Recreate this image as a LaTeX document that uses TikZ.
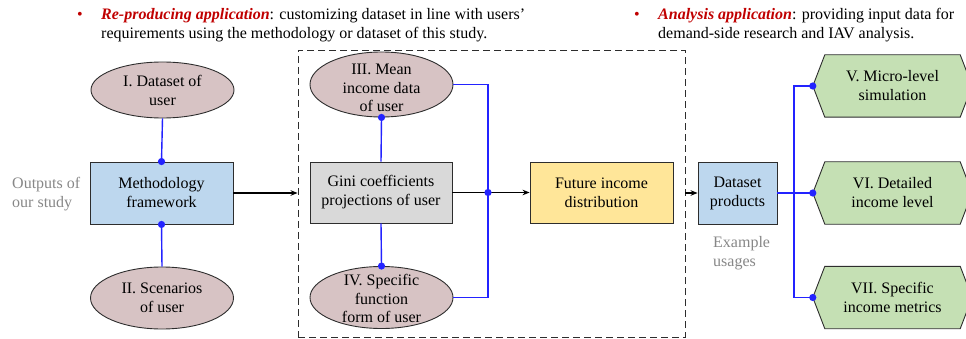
\documentclass[tikz,border=0pt]{standalone}
\usepackage{fontspec}
\setmainfont{Liberation Serif}
\usetikzlibrary{arrows.meta,shapes.geometric,backgrounds}
\definecolor{ellfill}{RGB}{215,195,196}
\definecolor{bluefill}{RGB}{189,215,238}
\definecolor{grayfill}{RGB}{217,217,217}
\definecolor{yelfill}{RGB}{255,230,153}
\definecolor{grnfill}{RGB}{197,224,180}
\definecolor{conn}{RGB}{35,35,255}
\definecolor{redtxt}{RGB}{192,0,0}
\definecolor{graytxt}{RGB}{135,135,135}
\definecolor{edge}{RGB}{45,45,45}
\begin{document}
\begin{tikzpicture}[x=1pt,y=-1pt,
  font=\fontsize{16}{19}\selectfont,
  ell/.style={ellipse, draw=edge, line width=0.9pt, fill=ellfill, inner sep=0, minimum width=143, minimum height=#1},
  box/.style={rectangle, draw=edge, line width=0.9pt, inner sep=0, align=center, minimum height=62, minimum width=143},
  txt/.style={align=center, inner sep=0},
  hexa/.style={inner sep=0, align=center, minimum width=159, minimum height=62},
  hexline/.style={draw=edge, line width=0.9pt, fill=grnfill},
  bl/.style={draw=conn, line width=1.4pt},
  arr/.style={draw=black, line width=1.4pt, -{Stealth[length=7pt,width=5.5pt]}},
  note/.style={align=left, inner sep=0, text=graytxt},
  bul/.style={anchor=mid west, inner sep=0}
]
\useasboundingbox (0,0) rectangle (966,339);

% bullets
\node[anchor=mid, inner sep=0, text=redtxt] (b1) at (80,17.5) {•};
\node[bul] (t1a) at (101,17.5) {\textcolor{redtxt}{\textbf{\textit{Re-producing application}}}: customizing dataset in line with users’};
\node[bul] (t1b) at (101,36.5) {requirements using the methodology or dataset of this study.};
\node[anchor=mid, inner sep=0, text=redtxt] (b2) at (637,17.5) {•};
\node[bul] (t2a) at (658,17.5) {\textcolor{redtxt}{\textbf{\textit{Analysis application}}}: providing input data for};
\node[bul] (t2b) at (658,36.5) {demand-side research and IAV analysis.};

% dashed frame
\node[draw=edge, dash pattern=on 7pt off 4pt, line width=0.9pt, minimum width=387, minimum height=287, inner sep=0] (db) at (491.5,193.5) {};

% left column
\node[ell=56] (e1) at (162.5,90) {};
\node[txt] (e1t) at (e1) {I. Dataset of\\user};
\node[box, fill=bluefill] (mf) at (161.5,193) {Methodology\\framework};
\node[ell=62] (e2) at (162,298) {};
\node[txt] (e2t) at (e2) {II. Scenarios\\of user};
\node[note, anchor=west] (out) at (12,194.5) {Outputs of\\our study};

% middle
\node[ell=65] (e3) at (381.5,84.5) {};
\node[txt, font=\fontsize{16}{18.5}\selectfont] (e3t) at (381.5,88) {III. Mean\\income data\\of user};
\node[box, fill=grayfill, minimum width=142, minimum height=61] (gn) at (381,192.5) {Gini coefficients\\projections of user};
\node[ell=62] (e4) at (381.5,297.5) {};
\node[txt, font=\fontsize{16}{18.5}\selectfont] (e4t) at (381.5,298.5) {IV. Specific\\function\\form of user};
\node[box, fill=yelfill, minimum height=61] (fut) at (601.5,192.5) {Future income\\distribution};
\coordinate (jn) at (488,192.5);

% right
\node[box, fill=bluefill, minimum width=79] (ds) at (737.5,193) {Dataset\\products};
\node[note, anchor=west] (ex) at (713,253.5) {Example\\usages};
\node[hexa] (h5) at (892.5,86) {V. Micro-level\\simulation};
\node[hexa] (h6) at (892.5,193) {VI. Detailed\\income level};
\node[hexa] (h7) at (892.5,297.5) {VII. Specific\\income metrics};
\coordinate (jr) at (794,193);
\begin{scope}[on background layer]
\foreach \h in {h5,h6,h7}
  \draw[hexline] (\h.west) -- ([xshift=12pt]\h.north west) -- ([xshift=-12pt]\h.north east) -- (\h.east) -- ([xshift=-12pt]\h.south east) -- ([xshift=12pt]\h.south west) -- cycle;
\end{scope}

% black arrows
\draw[arr] (mf.east) -- (db.west |- mf.east);
\draw[arr] (gn.east) -- (fut.west);
\draw[arr] (db.east |- ds.west) -- (ds.west);

% blue connectors
\draw[bl] (e1.south) -- (mf.north);
\draw[bl] (mf.south) -- (e2.north);
\draw[bl] (gn.north) -- (e3.south);
\draw[bl] (gn.south) -- (e4.north);
\draw[bl] (e3.east) -| (jn) |- (e4.east);
\draw[bl] (ds.east) -- (h6.west);
\draw[bl] (h5.west) -| (jr) |- (h7.west);

% dots
\foreach \p in {mf.north, mf.south, e3.south, e4.north, jn, h5.west, h6.west, h7.west}
  \fill[conn] (\p) circle[radius=3.6];
\end{tikzpicture}
\end{document}
